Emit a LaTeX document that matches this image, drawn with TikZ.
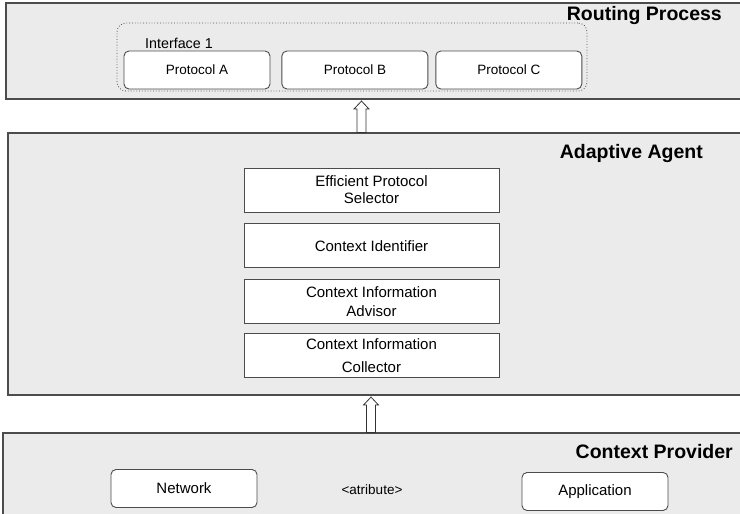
\documentclass[tikz,border=0pt]{standalone}
\usepackage{fontspec}
\setmainfont{Liberation Sans}
\usetikzlibrary{positioning,calc}
\tikzset{
    panel/.style = {
        draw=black!70,
        fill=black!8,
        shape=rectangle,
        line width=1.1pt,
        inner sep=0pt
    },
    title/.style = {
        font=\fontsize{19.5}{22}\selectfont\bfseries,
        inner sep=0pt
    },
    block/.style = {
        draw=black!70,
        fill=white,
        shape=rectangle,
        line width=0.9pt,
        align=center,
        font=\fontsize{15}{18}\selectfont
    },
    agentbox/.style = {
        block,
        minimum width=255pt,
        minimum height=44pt
    },
    source/.style = {
        block,
        rounded corners=5pt,
        minimum width=146pt,
        minimum height=38pt
    },
    iface/.style = {
        draw=black!70,
        dotted,
        rounded corners=9pt,
        line width=0.8pt,
        minimum width=470pt,
        minimum height=68pt
    },
    hollow/.style = {
        draw=black!80,
        fill=white,
        line width=0.8pt
    },
}
% upward hollow arrow from #1 (foot) to #2 (tip)
\newcommand{\hollowarrow}[2]{%
    \path[hollow] ($(#1)+(-4.5,0)$) -- ($(#2)+(-4.5,-8)$) -- ($(#2)+(-7.5,-8)$) -- (#2)
        -- ($(#2)+(7.5,-8)$) -- ($(#2)+(4.5,-8)$) -- ($(#1)+(4.5,0)$) -- cycle;}

\begin{document}
\begin{tikzpicture}[x=1pt, y=1pt]
    \path[use as bounding box, clip] (0,0) rectangle (740,514);
    \fill[white] (0,0) rectangle (740,514);

    % the three layers
    \node[panel, minimum width=739pt, minimum height=96pt] (routing) at (375.5,463) {};
    \node[panel, minimum width=737pt, minimum height=262pt] (agent) at (376.5,250) {};
    \node[panel, minimum width=742pt, minimum height=87pt] (provider) at (374,37.5) {};

    \node[title, anchor=base east] (routingtitle) at (722,493) {Routing Process};
    \node[title, anchor=base east] (agenttitle) at (703,355) {Adaptive Agent};
    \node[title, anchor=base east] (providertitle) at (733,55) {Context Provider};

    % routing process
    \node[iface] (iface) at (352,457) {};
    \node[anchor=west, inner sep=0pt, font=\fontsize{14.3}{16}\selectfont] (ifacelabel) at (145,471) {Interface 1};
    \node[source, font=\fontsize{13.5}{16}\selectfont] (protoA) at (197,444) {Protocol A};
    \node[source, font=\fontsize{13.5}{16}\selectfont, right=11pt of protoA] (protoB) {Protocol B};
    \node[source, font=\fontsize{13.5}{16}\selectfont, right=7pt of protoB] (protoC) {Protocol C};

    % adaptive agent
    \node[agentbox] (selector) at (371.5,324) {Efficient Protocol\\[-1pt]Selector};
    \node[agentbox, below=11pt of selector] (identifier) {Context Identifier};
    \node[agentbox, below=11pt of identifier] (advisor) {Context Information\\[1pt]Advisor};
    \node[agentbox, below=9pt of advisor] (collector) {Context Information\\[5pt]Collector};

    % context provider
    \node[source] (network) at (184,25.5) {Network};
    \node[source] (application) at (595,22.5) {Application};
    \node[font=\fontsize{13.5}{15}\selectfont] (attr) at (372,24) {<atribute>};

    % arrows between layers
    \coordinate (upA) at (361.5,0);
    \coordinate (upB) at (371,0);
    \coordinate (footA) at (agent.north -| upA);
    \coordinate (tipA) at ($(routing.south -| upA)+(0,-1.5)$);
    \coordinate (footB) at (provider.north -| upB);
    \coordinate (tipB) at ($(agent.south -| upB)+(0,-1.5)$);
    \hollowarrow{footA}{tipA}
    \hollowarrow{footB}{tipB}
\end{tikzpicture}
\end{document}
